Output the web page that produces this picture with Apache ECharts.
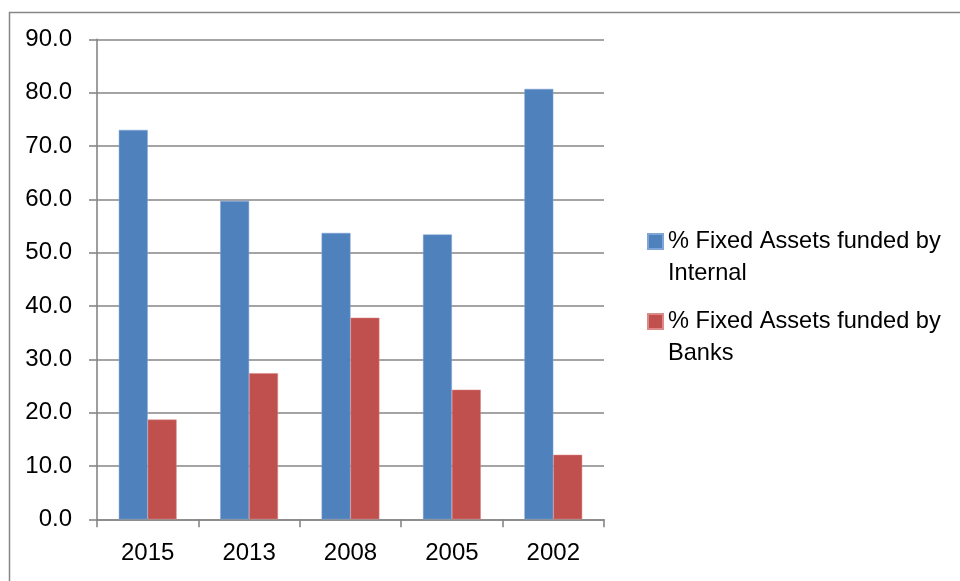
<!DOCTYPE html>
<html>
<head>
<meta charset="utf-8">
<script src="https://cdn.jsdelivr.net/npm/echarts@6/dist/echarts.min.js"></script>
<style>html,body{margin:0;padding:0;background:#fff}#c{width:960px;height:581px}</style>
</head>
<body>
<div id="c"></div>
<script>
const categories = ['2015', '2013', '2008', '2005', '2002'];
const internalSeriesName = '% Fixed Assets funded by Internal';
const banksSeriesName = '% Fixed Assets funded by Banks';
const internalValues = [73.0, 59.7, 53.7, 53.4, 80.7];
const banksValues = [18.7, 27.4, 37.8, 24.3, 12.1];
const yTicks = { min: 0, max: 90, interval: 10 };

const FONT = 'Liberation Sans';
const GRAY = '#868686';
const chart = echarts.init(document.getElementById('c'), null, { renderer: 'canvas' });

function legendFmt(name) {
  const i = name.lastIndexOf(' ');
  return ' \n' + name.slice(0, i) + '\n' + name.slice(i + 1);
}
const legendText = { fontFamily: FONT, fontSize: 23.6, color: '#000', lineHeight: 32 };

chart.setOption({
  animation: false,
  backgroundColor: '#fff',
  graphic: [{
    type: 'rect', left: 7, top: 10, shape: { width: 1000, height: 700 },
    style: { fill: 'none', stroke: GRAY, lineWidth: 1.5 }, silent: true
  }],
  grid: { left: 97, right: 356, top: 39.3, bottom: 61.7, containLabel: false },
  legend: [
    { data: [internalSeriesName], orient: 'vertical', left: 647, top: 193.5, padding: 0,
      itemWidth: 15, itemHeight: 15, icon: 'rect', formatter: legendFmt, textStyle: legendText },
    { data: [banksSeriesName], orient: 'vertical', left: 647, top: 273.5, padding: 0,
      itemWidth: 15, itemHeight: 15, icon: 'rect', formatter: legendFmt, textStyle: legendText }
  ],
  xAxis: {
    type: 'category', data: categories,
    axisLine: { lineStyle: { color: GRAY, width: 1.6 } },
    axisTick: { show: true, alignWithLabel: false, length: 8, lineStyle: { color: GRAY, width: 1.6 } },
    axisLabel: { fontFamily: FONT, fontSize: 24, color: '#000', margin: 22 },
    splitLine: { show: false }
  },
  yAxis: {
    type: 'value', min: yTicks.min, max: yTicks.max, interval: yTicks.interval,
    axisLine: { show: true, lineStyle: { color: GRAY, width: 1.6 } },
    axisTick: { show: true, length: 8, lineStyle: { color: GRAY, width: 1.6 } },
    axisLabel: { fontFamily: FONT, fontSize: 24, color: '#000', margin: 25,
      formatter: v => v.toFixed(1) },
    splitLine: { show: true, lineStyle: { color: GRAY, width: 1.6 } }
  },
  series: [
    { name: internalSeriesName, type: 'bar', data: internalValues, barGap: '0%', barCategoryGap: '43%',
      itemStyle: { color: '#4F81BD', borderColor: '#7FA5D6', borderWidth: 0.5 } },
    { name: banksSeriesName, type: 'bar', data: banksValues, barGap: '0%', barCategoryGap: '43%',
      itemStyle: { color: '#C0504D', borderColor: '#DC8A88', borderWidth: 0.5 } }
  ]
});
</script>
</body>
</html>
